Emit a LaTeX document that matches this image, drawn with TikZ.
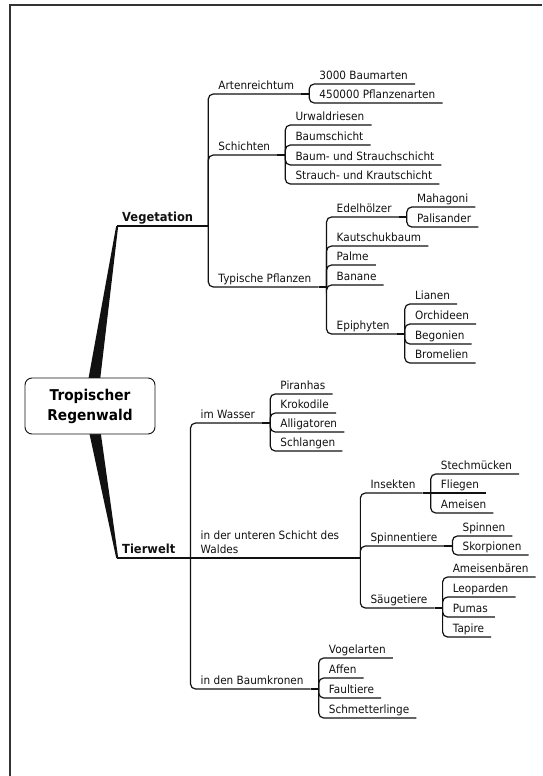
\documentclass[tikz,border=0pt]{standalone}
\usepackage{fontspec}
\setmainfont{DejaVu Sans}[FakeStretch=0.92]
\usetikzlibrary{calc}
\definecolor{MapInk}{HTML}{111111}
\definecolor{MapFrame}{HTML}{333333}

\tikzset{
  leaf/.style={anchor=south west,inner xsep=7pt,inner ysep=1.5pt,text depth=2.5pt,font=\fontsize{11.4}{14}\selectfont,text=MapInk},
  main/.style={leaf,inner xsep=5pt,font=\bfseries\fontsize{12.5}{14}\selectfont},
  hub/.style={draw=MapInk,fill=white,line width=.9pt,rounded corners=7pt,minimum width=130pt,minimum height=56pt,align=center,font=\bfseries\fontsize{14.9}{20}\selectfont},
  branch/.style={draw=MapInk,line width=1.2pt,rounded corners=5pt},
}

\begin{document}
\begin{tikzpicture}[x=1pt,y=-1pt]
\useasboundingbox (0,0) rectangle (542,776);
\draw[MapFrame,line width=2pt] (9.5,776) -- (9.5,5) -- (542,5);

% main topics and the central box
\node[main] (veg) at (117,226) {Vegetation};
\node[main] (tier) at (117,558) {Tierwelt};
\coordinate (hubc) at (90,406);
\fill[MapInk] ($(hubc)+(-6.5,0)$) -- ($(hubc)+(7,0)$) -- ($(veg.south west)+(1.2,0)$) -- ($(veg.south west)+(-.8,0)$) -- cycle;
\fill[MapInk] ($(hubc)+(-6.5,0)$) -- ($(hubc)+(7,0)$) -- ($(tier.south west)+(1.2,0)$) -- ($(tier.south west)+(-.8,0)$) -- cycle;
\node[hub] (root) at (hubc) {Tropischer\\Regenwald};

% Vegetation
\coordinate (sVeg) at ($(veg.south east)+(10,0)$);
\node[leaf] (arten) at ($(sVeg)+(3,-132)$) {Artenreichtum};
\node[leaf] (schichten) at ($(sVeg)+(3,-71)$) {Schichten};
\node[leaf] (typisch) at ($(sVeg)+(3,61)$) {Typische Pflanzen};
\draw[branch] (veg.south west) -- (sVeg);
\foreach \c in {arten,schichten,typisch} \draw[branch] (sVeg) |- (\c.south east);

\coordinate (sArten) at ($(arten.south east)+(8,0)$);
\node[leaf] (baumarten) at ($(sArten)+(3,-10)$) {3000 Baumarten};
\node[leaf] (pflanzenarten) at ($(sArten)+(3,9)$) {450000 Pflanzenarten};
\draw[branch] (arten.south east) -- (sArten);
\foreach \c in {baumarten,pflanzenarten} \draw[branch] (sArten) |- (\c.south east);

\coordinate (sSchicht) at ($(schichten.south east)+(8,0)$);
\node[leaf] (urwald) at ($(sSchicht)+(3,-30)$) {Urwaldriesen};
\node[leaf] (baumschicht) at ($(sSchicht)+(3,-10)$) {Baumschicht};
\node[leaf] (baumstrauch) at ($(sSchicht)+(3,10)$) {Baum- und Strauchschicht};
\node[leaf] (strauchkraut) at ($(sSchicht)+(3,29)$) {Strauch- und Krautschicht};
\draw[branch] (schichten.south east) -- (sSchicht);
\foreach \c in {urwald,baumschicht,baumstrauch,strauchkraut} \draw[branch] (sSchicht) |- (\c.south east);

\coordinate (sTyp) at ($(typisch.south east)+(8,0)$);
\node[leaf] (edel) at ($(sTyp)+(3,-70)$) {Edelhölzer};
\node[leaf] (kautschuk) at ($(sTyp)+(3,-41)$) {Kautschukbaum};
\node[leaf] (palme) at ($(sTyp)+(3,-22)$) {Palme};
\node[leaf] (banane) at ($(sTyp)+(3,-2)$) {Banane};
\node[leaf] (epi) at ($(sTyp)+(3,47)$) {Epiphyten};
\draw[branch] (typisch.south east) -- (sTyp);
\foreach \c in {edel,kautschuk,palme,banane,epi} \draw[branch] (sTyp) |- (\c.south east);

\coordinate (sEdel) at ($(edel.south east)+(8,0)$);
\node[leaf] (mahagoni) at ($(sEdel)+(3,-10)$) {Mahagoni};
\node[leaf] (palisander) at ($(sEdel)+(3,10)$) {Palisander};
\draw[branch] (edel.south east) -- (sEdel);
\foreach \c in {mahagoni,palisander} \draw[branch] (sEdel) |- (\c.south east);

\coordinate (sEpi) at ($(epi.south east)+(8,0)$);
\node[leaf] (lianen) at ($(sEpi)+(3,-30)$) {Lianen};
\node[leaf] (orchideen) at ($(sEpi)+(3,-10)$) {Orchideen};
\node[leaf] (begonien) at ($(sEpi)+(3,10)$) {Begonien};
\node[leaf] (bromelien) at ($(sEpi)+(3,29)$) {Bromelien};
\draw[branch] (epi.south east) -- (sEpi);
\foreach \c in {lianen,orchideen,begonien,bromelien} \draw[branch] (sEpi) |- (\c.south east);

% Tierwelt
\coordinate (sTier) at ($(tier.south east)+(10,0)$);
\node[leaf] (wasser) at ($(sTier)+(3,-135)$) {im Wasser};
\node[leaf,align=left] (unten) at ($(sTier)+(3,0)$) {in der unteren Schicht des\\Waldes};
\node[leaf] (krone) at ($(sTier)+(3,131)$) {in den Baumkronen};
\draw[branch] (tier.south west) -- (unten.south east);
\foreach \c in {wasser,krone} \draw[branch] (sTier) |- (\c.south east);

\coordinate (sWasser) at ($(wasser.south east)+(8,0)$);
\node[leaf] (piranhas) at ($(sWasser)+(3,-29)$) {Piranhas};
\node[leaf] (krokodile) at ($(sWasser)+(3,-10)$) {Krokodile};
\node[leaf] (alligatoren) at ($(sWasser)+(3,9)$) {Alligatoren};
\node[leaf] (schlangen) at ($(sWasser)+(3,28)$) {Schlangen};
\draw[branch] (wasser.south east) -- (sWasser);
\foreach \c in {piranhas,krokodile,alligatoren,schlangen} \draw[branch] (sWasser) |- (\c.south east);

\coordinate (sUnten) at ($(unten.south east)+(14,0)$);
\node[leaf] (insekten) at ($(sUnten)+(3,-65)$) {Insekten};
\node[leaf] (spinnentiere) at ($(sUnten)+(3,-12)$) {Spinnentiere};
\node[leaf] (saeuge) at ($(sUnten)+(3,50)$) {Säugetiere};
\draw[branch] (unten.south east) -- (sUnten);
\foreach \c in {insekten,spinnentiere,saeuge} \draw[branch] (sUnten) |- (\c.south east);

\coordinate (sInsekt) at ($(insekten.south east)+(8,0)$);
\node[leaf] (stech) at ($(sInsekt)+(3,-19)$) {Stechmücken};
\node[leaf] (fliegen) at ($(sInsekt)+(3,0)$) {Fliegen};
\node[leaf] (ameisen) at ($(sInsekt)+(3,20)$) {Ameisen};
\draw[branch] (insekten.south east) -- (fliegen.south east);
\foreach \c in {stech,ameisen} \draw[branch] (sInsekt) |- (\c.south east);

\coordinate (sSpinn) at ($(spinnentiere.south east)+(8,0)$);
\node[leaf] (spinnen) at ($(sSpinn)+(3,-10)$) {Spinnen};
\node[leaf] (skorpionen) at ($(sSpinn)+(3,9)$) {Skorpionen};
\draw[branch] (spinnentiere.south east) -- (sSpinn);
\foreach \c in {spinnen,skorpionen} \draw[branch] (sSpinn) |- (\c.south east);

\coordinate (sSaeuge) at ($(saeuge.south east)+(8,0)$);
\node[leaf] (ameisenbaeren) at ($(sSaeuge)+(3,-31)$) {Ameisenbären};
\node[leaf] (leoparden) at ($(sSaeuge)+(3,-11)$) {Leoparden};
\node[leaf] (pumas) at ($(sSaeuge)+(3,9)$) {Pumas};
\node[leaf] (tapire) at ($(sSaeuge)+(3,29)$) {Tapire};
\draw[branch] (saeuge.south east) -- (sSaeuge);
\foreach \c in {ameisenbaeren,leoparden,pumas,tapire} \draw[branch] (sSaeuge) |- (\c.south east);

\coordinate (sKrone) at ($(krone.south east)+(8,0)$);
\node[leaf] (vogel) at ($(sKrone)+(3,-31)$) {Vogelarten};
\node[leaf] (affen) at ($(sKrone)+(3,-11)$) {Affen};
\node[leaf] (faultiere) at ($(sKrone)+(3,9)$) {Faultiere};
\node[leaf] (schmetterlinge) at ($(sKrone)+(3,29)$) {Schmetterlinge};
\draw[branch] (krone.south east) -- (sKrone);
\foreach \c in {vogel,affen,faultiere,schmetterlinge} \draw[branch] (sKrone) |- (\c.south east);
\end{tikzpicture}
\end{document}
